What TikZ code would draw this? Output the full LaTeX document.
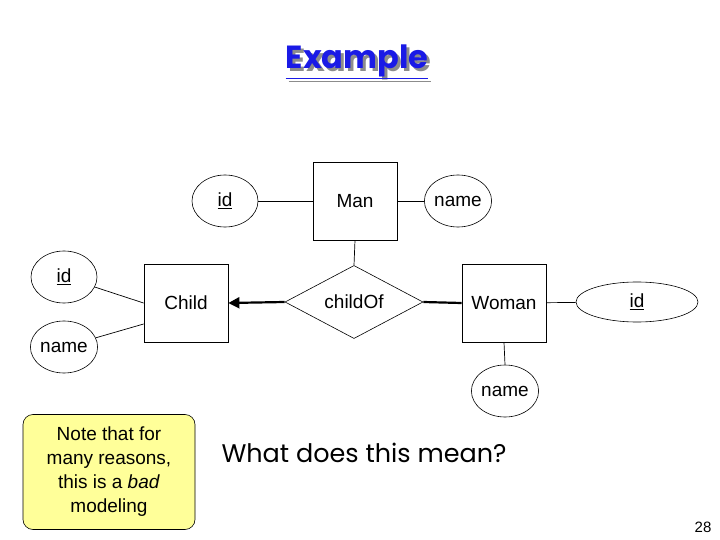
\documentclass[tikz,border=0pt]{standalone}
\usepackage{fontspec}
\setmainfont{Liberation Sans}
\newfontfamily\handfont{Poppins}
\usepackage{xcolor}
\usepackage{tikz}
\usetikzlibrary{arrows.meta,shapes.geometric}
\definecolor{ctitle}{HTML}{1A1AE6}
\definecolor{cshade}{HTML}{8C8C8C}
\definecolor{cnote}{HTML}{FFFF99}
\tikzset{
  ent/.style={draw,line width=0.8pt,minimum width=84pt,minimum height=78pt,inner sep=0pt},
  attr/.style={draw,ellipse,line width=0.6pt,minimum width=66pt,minimum height=52pt,inner sep=0pt},
  rel/.style={draw,diamond,line width=0.6pt,minimum width=138pt,minimum height=57pt,inner sep=0pt},
  link/.style={line width=0.7pt},
  tlink/.style={line width=2.2pt},
  note/.style={draw,rounded corners=10pt,fill=cnote,line width=0.6pt,align=center,
               minimum width=172pt,minimum height=115pt,inner sep=2pt},
}
\newcommand{\key}[1]{\underline{#1}}

\begin{document}
\begin{tikzpicture}[x=1pt,y=-1pt,font=\fontsize{19}{24}\selectfont]
\useasboundingbox (0,0) rectangle (720,540);

% title with its shadow
\node[text=cshade] (ttlshade) at (360,65) {\handfont\fontsize{32}{36}\selectfont\bfseries\underline{Example}};
\node[text=ctitle] (ttl) at (357,62) {\handfont\fontsize{32}{36}\selectfont\bfseries\underline{Example}};

% entities
\node[ent] (man) at (355,201) {Man};
\node[ent] (child) at (186,303) {Child};
\node[ent] (woman) at (504,303) {Woman};

% relationship
\node[rel] (childof) at (354,302) {childOf};

% attributes
\node[attr] (manid) at (225,201) {\key{id}};
\node[attr] (manname) at (458,201) {name};
\node[attr] (childid) at (64,277) {\key{id}};
\node[attr] (childname) at (64,347) {name};
\node[attr,minimum width=122pt,minimum height=40pt] (womanid) at (637,302) {\key{id}};
\node[attr] (womanname) at (505,391) {name};

% connectors
\draw[link] (manid) -- (man);
\draw[link] (man) -- (manname);
\draw[link] (man.south) -- (childof.north);
\draw[tlink,-{Triangle[length=11pt,width=11pt]}] (childof.west) -- (child.east);
\draw[tlink] (childof.east) -- (woman.west);
\draw[link] (woman) -- (womanid);
\draw[link] (woman.south) -- (womanname.north);
\draw[link] (childid) -- (child.west |- 0,303);
\draw[link] (childname) -- (child.west |- 0,324);

% remarks
\node[note] (bad) at (109,472) {Note that for\\many reasons,\\this is a \textit{bad}\\modeling};
\node[anchor=west] (ask) at (218,453) {\handfont\fontsize{25.5}{30}\selectfont What does this mean?};
\node (pg) at (703,527) {\fontsize{15}{17}\selectfont 28};

\end{tikzpicture}
\end{document}
